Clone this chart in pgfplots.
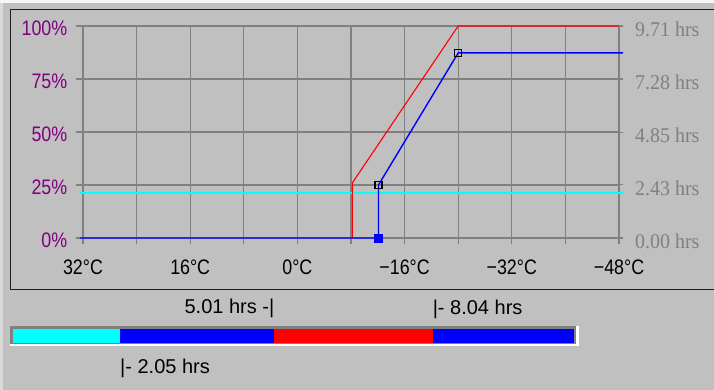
\documentclass[border=0pt]{standalone}
\usepackage{fontspec}
\setmainfont{Liberation Sans}
\newfontfamily\tickfont{Liberation Sans}[FakeStretch=0.85]
\newfontfamily\rfont{Liberation Serif}[FakeStretch=0.95]
\usepackage{pgfplots}
\pgfplotsset{compat=1.18}
\definecolor{bg}{HTML}{C0C0C0}
\definecolor{gridc}{HTML}{808080}
\definecolor{purp}{HTML}{800080}
\definecolor{framec}{HTML}{202020}
\definecolor{cy}{RGB}{0,255,255}
\definecolor{rd}{RGB}{255,0,0}
\definecolor{bl}{RGB}{0,0,255}
\begin{document}
\begin{tikzpicture}[x=1pt,y=1pt]
\useasboundingbox (0,0) rectangle (714,390);
\clip (0,0) rectangle (714,390);
\fill[bg] (0,0) rectangle (714,390);
\fill[white!85!bg] (0,387) rectangle (714,390);
\fill[white!40!bg] (0,0) rectangle (3,387);
% chart frame
\draw[framec, line width=1.5pt] (10.5,100.5) rectangle (730,380.5);
% bar frame
\fill[gridc] (10,45.5) rectangle (576,63.5);
\fill[white] (10,43.5) rectangle (578.5,45.5);
\fill[white] (576,43.5) rectangle (578.5,63.5);

\begin{axis}[
  at={(83pt,152pt)}, anchor=south west, scale only axis,
  width=536pt, height=212pt,
  xmin=-48, xmax=32, x dir=reverse, ymin=0, ymax=100,
  clip=false,
  axis line style={draw=none},
  grid=major, major grid style={gridc, line width=1.1pt},
  xtick={32,24,16,8,0,-8,-16,-24,-32,-40,-48},
  xticklabels={32°C,,16°C,,0°C,,−16°C,,−32°C,,−48°C},
  ytick={0,25,50,75,100},
  yticklabels={0\%,25\%,50\%,75\%,100\%},
  xtick pos=lower, ytick pos=left,
  tick align=outside, major tick length=6.5pt,
  tick style={gridc, line width=1.1pt},
  xticklabel style={font=\tickfont\fontsize{21}{21}\selectfont, text=black, anchor=north, inner sep=0pt, yshift=-15pt},
  yticklabel style={font=\tickfont\fontsize{21}{21}\selectfont, text=purp, anchor=east, inner sep=0pt, xshift=-9pt, yshift=-2.5pt},
]
\addplot[cy, line width=1.6pt] coordinates {(32.45,21.2) (-48.6,21.2)};
\addplot[rd, line width=1.1pt] coordinates {(-8.2,0) (-8.2,26) (-24,100) (-48.6,100)};
\addplot[bl, line width=1.4pt] coordinates {(32.45,0) (-12.1,0) (-12.1,25) (-24,87.3) (-48.6,87.3)};
\addplot[only marks, mark=square*, mark size=3.8pt, bl] coordinates {(-12.1,0)};
\addplot[only marks, mark=square, mark size=3.4pt, black, line width=1.4pt] coordinates {(-12.1,25) (-24,87.3)};
\end{axis}

\begin{axis}[
  at={(83pt,152pt)}, anchor=south west, scale only axis,
  width=536pt, height=212pt,
  xmin=0, xmax=1, ymin=0, ymax=9.71,
  axis line style={draw=none},
  xtick=\empty,
  ytick={0,2.43,4.85,7.28,9.71},
  yticklabels={0.00 hrs,2.43 hrs,4.85 hrs,7.28 hrs,9.71 hrs},
  ytick pos=right, yticklabel pos=right,
  tick align=outside, major tick length=4pt,
  tick style={gridc, line width=1.1pt},
  yticklabel style={font=\rfont\fontsize{21}{21}\selectfont, text=gridc, anchor=west, inner sep=0pt, xshift=12pt, yshift=-3pt},
]
\end{axis}

\begin{axis}[
  at={(13pt,47pt)}, anchor=south west, scale only axis,
  width=561pt, height=14pt,
  xmin=0, xmax=10.75, ymin=0, ymax=1,
  hide axis, clip=false,
]
\addplot[fill=cy, draw=none] coordinates {(0,1) (2.05,1)} \closedcycle;
\addplot[fill=bl, draw=none] coordinates {(2.05,1) (5.01,1)} \closedcycle;
\addplot[fill=rd, draw=none] coordinates {(5.01,1) (8.04,1)} \closedcycle;
\addplot[fill=bl, draw=none] coordinates {(8.04,1) (10.75,1)} \closedcycle;
\node[anchor=base east, inner sep=0pt, font=\fontsize{20}{20}\selectfont] at (axis cs:5.01,2.14) {5.01 hrs -|};
\node[anchor=base west, inner sep=0pt, font=\fontsize{20}{20}\selectfont] at (axis cs:8.04,2.07) {|- 8.04 hrs};
\node[anchor=base west, inner sep=0pt, font=\fontsize{20}{20}\selectfont] at (axis cs:2.05,-2.21) {|- 2.05 hrs};
\end{axis}
\end{tikzpicture}
\end{document}
